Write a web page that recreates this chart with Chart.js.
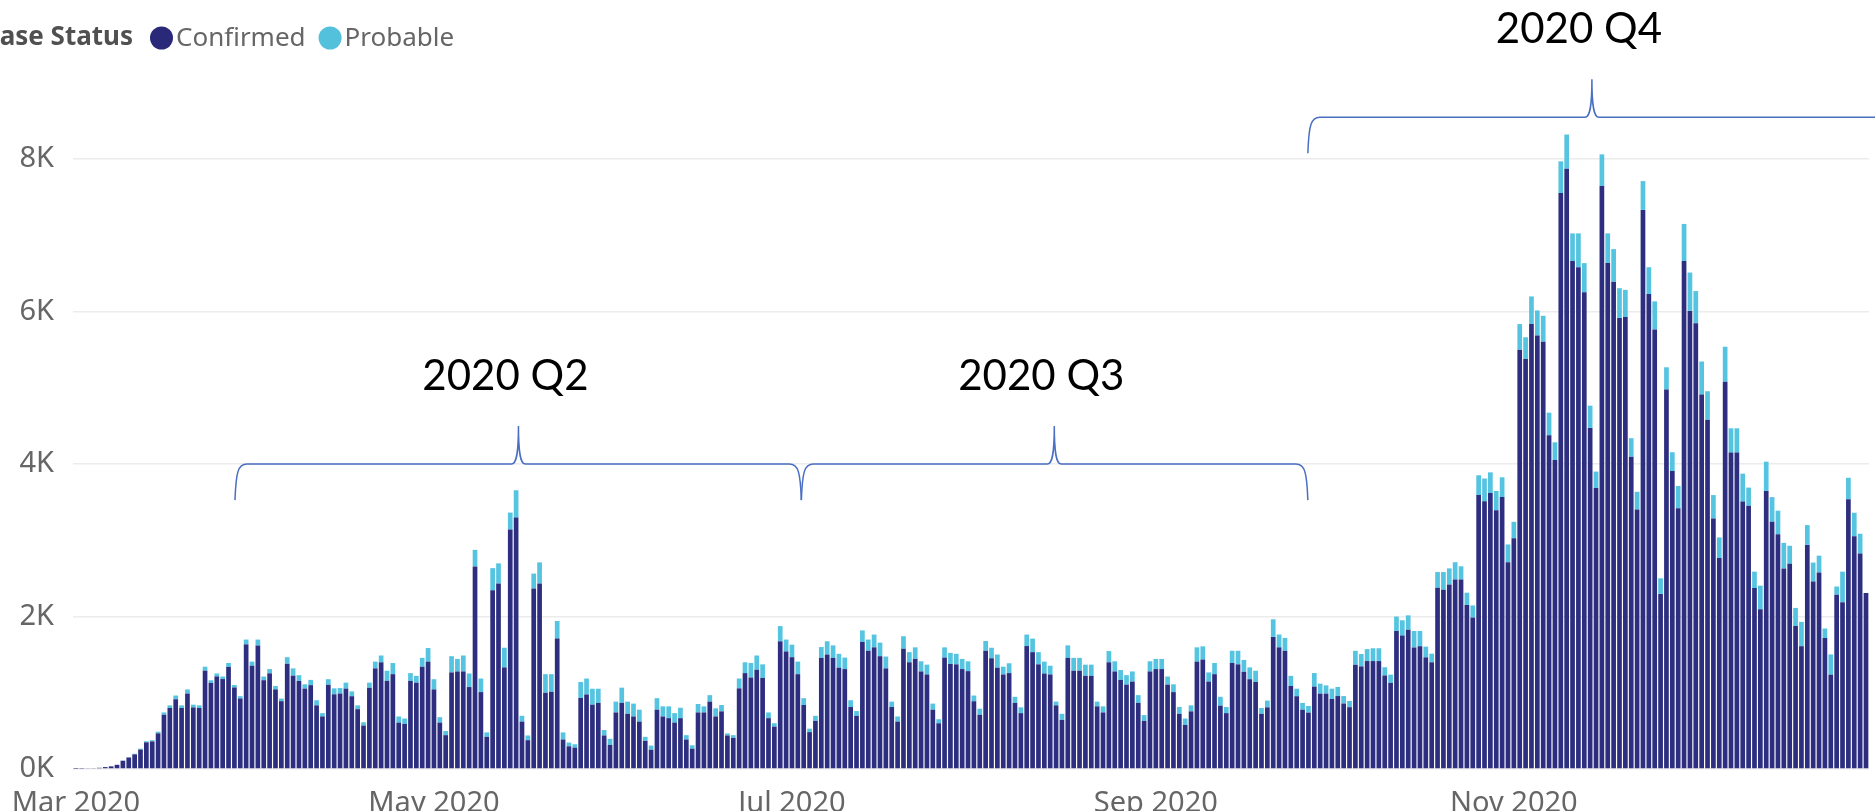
<!DOCTYPE html>
<html>
<head>
<meta charset="utf-8">
<title>Case Status</title>
<script src="https://cdn.jsdelivr.net/npm/chart.js@4/dist/chart.umd.min.js"></script>
<style>
  html, body { margin: 0; padding: 0; background: #fff; overflow: hidden; }
  #wrap { position: relative; width: 1875px; height: 824px; }
</style>
</head>
<body>
<div id="wrap"><canvas id="caseChart"></canvas></div>
<script>
// daily cases, 1 Mar 2020 .. 31 Dec 2020 (one line per month)
var confirmed = [
  3,5,8,12,16,25,35,55,108,150,192,255,350,362,468,712,800,915,800,990,808,800,1290,1130,1215,1180,1340,1070,925,1635,1355,
  1620,1165,1255,1045,890,1380,1225,1155,1055,1100,835,690,1105,980,990,1055,955,785,570,1065,1320,1400,1156,1244,609,591,1156,1133,1342,1409,
  1044,609,444,1267,1280,1280,1075,2658,1009,422,2346,2435,1333,3142,3298,622,378,2369,2435,1000,1013,1711,387,298,280,933,978,844,867,440,316,
  742,867,724,689,622,369,253,778,689,667,609,667,387,267,742,742,884,689,756,440,409,1058,1258,1200,1302,1195,667,556,1675,1542,
  1467,1244,840,484,631,1458,1502,1458,1329,1311,813,698,1667,1551,1596,1480,1320,813,622,1578,1400,1444,1280,1240,778,600,1462,1378,1373,1311,1284,
  889,711,1551,1453,1329,1240,1258,867,733,1613,1533,1373,1253,1240,835,644,1458,1289,1289,1222,1222,822,742,1400,1280,1169,1107,1147,867,631,1280,
  1311,1311,1107,1009,724,578,756,1409,1436,1147,1244,831,733,1391,1373,1275,1178,1142,724,809,1733,1596,1551,1089,955,778,740,1081,989,989,
  919,957,859,811,1367,1346,1416,1416,1416,1227,1130,1811,1751,1827,1594,1611,1465,1400,2378,2351,2422,2486,2486,2151,1989,3594,3513,3621,3394,3567,2713,
  3027,5502,5378,5837,5686,5605,4378,4054,7556,7875,6664,6584,6254,4475,3686,7648,6637,6394,5918,5929,4097,3405,7335,6232,5767,2297,4978,3908,3421,6664,
  6010,5848,4913,4583,3286,2767,5081,4151,4151,3508,3454,2373,2097,3648,3243,3081,2632,2692,1876,1611,2940,2459,2578,1719,1238,2286,2189,3540,3054,2827,2308
];
var probable = [
  0,0,0,0,0,0,0,0,3,6,8,12,14,16,21,30,35,49,35,54,36,35,52,34,38,33,51,32,30,63,54,
  78,48,56,44,34,87,95,76,56,69,67,43,73,78,72,78,63,50,43,68,89,89,133,147,80,71,102,89,116,178,
  134,71,54,213,164,209,178,217,178,58,289,263,258,222,359,76,62,195,276,244,231,231,93,49,44,209,209,209,186,71,80,
  142,200,160,169,156,53,54,151,133,155,124,137,57,44,111,80,85,107,84,27,35,129,142,191,187,178,75,44,200,156,
  164,165,89,45,67,142,174,164,182,151,89,62,151,147,168,178,155,71,67,164,133,152,133,129,80,53,134,146,138,133,129,
  75,80,129,138,173,102,129,80,76,151,178,160,156,115,49,80,164,169,169,147,147,62,80,147,133,129,124,133,102,76,133,
  133,133,106,102,89,84,79,187,173,120,147,116,80,160,178,156,155,147,76,89,231,168,169,133,98,89,87,178,130,108,
  135,119,98,81,184,162,157,168,168,108,108,189,200,189,217,200,140,113,206,233,210,227,173,162,157,260,298,271,254,260,233,
  216,335,286,363,330,341,297,232,416,449,363,443,383,292,216,416,390,427,390,357,243,232,378,351,368,205,292,248,292,487,
  503,422,433,373,308,271,459,319,319,367,238,216,308,384,324,308,335,237,237,319,260,249,221,124,265,108,400,281,308,259
];

var tickDates = ['2020-03-01', '2020-05-01', '2020-07-01', '2020-09-01', '2020-11-01'];
var tickText = ['Mar 2020', 'May 2020', 'Jul 2020', 'Sep 2020', 'Nov 2020'];
var yTicks = [0, 2000, 4000, 6000, 8000];

// quarter braces, in day-index / case units
var braceText = ['2020 Q2', '2020 Q3', '2020 Q4'];
var braceFrom = [27.1, 123.6, 209.9];
var braceTip = [75.4, 166.7, 258.3];
var braceTo = [123.6, 209.9, 309];
var braceLevel = [4000, 4000, 8550];

var days = [];
for (var i = 0; i < confirmed.length; i++) {
  var d = new Date(Date.UTC(2020, 2, 1 + i));
  days.push(d.toISOString().substr(0, 10));
}

var FONT = '"Noto Sans", "Open Sans", sans-serif';

var caseLegend = {
  id: 'caseLegend',
  afterDraw: function(chart) {
    var ctx = chart.ctx;
    var y = 38;
    ctx.save();
    ctx.textBaseline = 'middle';
    ctx.font = 'bold 26px ' + FONT;
    ctx.fillStyle = '#505050';
    ctx.textAlign = 'right';
    ctx.fillText('Case Status', 133, y);
    ctx.textAlign = 'left';
    ctx.font = '26px ' + FONT;
    var x = 150;
    chart.data.datasets.forEach(function(ds) {
      ctx.fillStyle = ds.legendColor;
      ctx.beginPath();
      ctx.arc(x + 11.5, y, 11.5, 0, Math.PI * 2);
      ctx.fill();
      x += 26;
      ctx.fillStyle = '#666666';
      ctx.fillText(ds.label, x, y + 1);
      x += ctx.measureText(ds.label).width + 13;
    });
    ctx.restore();
  }
};

var quarterBraces = {
  id: 'quarterBraces',
  afterDraw: function(chart) {
    var ctx = chart.ctx;
    var xs = chart.scales.x, ys = chart.scales.y;
    var drop = 36, tip = 38;
    ctx.save();
    ctx.strokeStyle = '#4a6ec2';
    ctx.lineWidth = 1.5;
    for (var k = 0; k < braceText.length; k++) {
      var x0 = xs.getPixelForValue(braceFrom[k]);
      var xt = xs.getPixelForValue(braceTip[k]);
      var x1 = xs.getPixelForValue(braceTo[k]);
      var y = ys.getPixelForValue(braceLevel[k]);
      ctx.beginPath();
      ctx.moveTo(x0, y + drop);
      ctx.bezierCurveTo(x0 + 1, y + 8, x0 + 3, y, x0 + 12, y);
      ctx.lineTo(xt - 7, y);
      ctx.bezierCurveTo(xt - 2, y, xt, y - 10, xt, y - tip);
      ctx.bezierCurveTo(xt, y - 10, xt + 2, y, xt + 7, y);
      ctx.lineTo(x1 - 12, y);
      ctx.bezierCurveTo(x1 - 3, y, x1 - 1, y + 8, x1, y + drop);
      ctx.stroke();

      ctx.fillStyle = '#000';
      ctx.font = '42px Lato, "Noto Sans", sans-serif';
      ctx.textAlign = 'center';
      ctx.textBaseline = 'middle';
      ctx.fillText(braceText[k], xt - 13, y - 88);
    }
    ctx.restore();
  }
};

var chart = new Chart(document.getElementById('caseChart'), {
  type: 'bar',
  data: {
    labels: days,
    datasets: [{
      label: 'Confirmed',
      data: confirmed,
      backgroundColor: '#2d2e7f',
      legendColor: '#2a2878',
      barPercentage: 0.8,
      categoryPercentage: 1.0
    }, {
      label: 'Probable',
      data: probable,
      backgroundColor: '#55c4e0',
      legendColor: '#53c1dc',
      barPercentage: 0.8,
      categoryPercentage: 1.0
    }]
  },
  options: {
    responsive: true,
    maintainAspectRatio: false,
    animation: false,
    layout: { padding: { top: 83, left: 16, right: 4, bottom: 8 } },
    plugins: {
      legend: { display: false },
      tooltip: { enabled: false }
    },
    scales: {
      x: {
        stacked: true,
        grid: { display: false },
        border: { display: false },
        afterFit: function(s) { s.height = 47; },
        ticks: {
          autoSkip: false,
          maxRotation: 0,
          minRotation: 0,
          padding: 9,
          color: '#666666',
          font: { family: FONT, size: 29 },
          callback: function(value, index) {
            var n = tickDates.indexOf(days[index]);
            return n < 0 ? '' : tickText[n];
          }
        }
      },
      y: {
        stacked: true,
        min: 0,
        max: 9000,
        border: { display: false },
        grid: { color: '#ececec', lineWidth: 1.5, drawTicks: false },
        afterFit: function(s) { s.width = 57; },
        afterBuildTicks: function(s) {
          s.ticks = yTicks.map(function(v) { return { value: v }; });
        },
        ticks: {
          padding: 19,
          color: '#666666',
          font: { family: FONT, size: 29 },
          callback: function(v) { return (v / 1000) + 'K'; }
        }
      }
    }
  },
  plugins: [quarterBraces, caseLegend]
});
</script>
</body>
</html>
